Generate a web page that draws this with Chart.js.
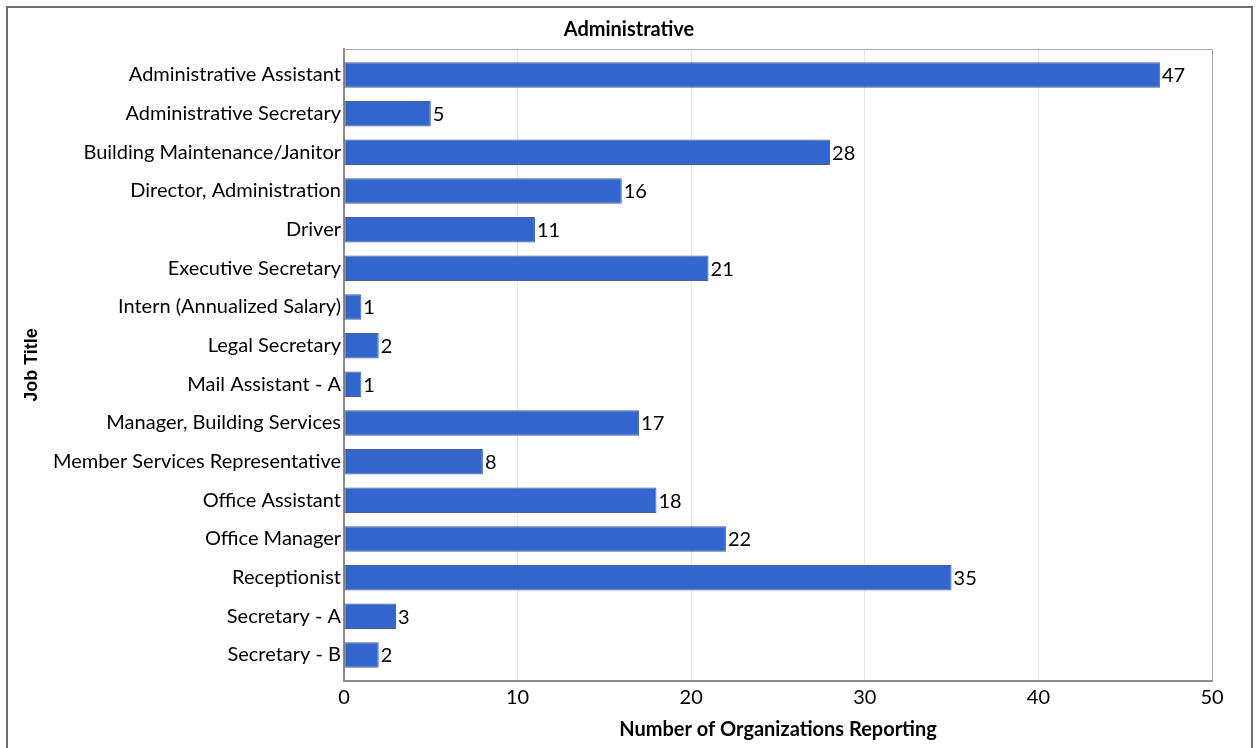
<!DOCTYPE html>
<html>
<head>
<meta charset="utf-8">
<script src="https://cdn.jsdelivr.net/npm/chart.js@4"></script>
<style>
  html, body { margin: 0; padding: 0; background: #fff; }
  #wrap { position: relative; width: 1258px; height: 748px; }
  #frame { position: absolute; left: 6px; top: 6px; width: 1243px; height: 760px; border: 2px solid #6e6e6e; pointer-events: none; }
</style>
</head>
<body>
<div id="wrap">
  <canvas id="myChart" width="1258" height="748"></canvas>
  <div id="frame"></div>
</div>
<script>
'use strict';
const chartTitle = 'Administrative';
const jobTitles = ['Administrative Assistant', 'Administrative Secretary', 'Building Maintenance/Janitor', 'Director, Administration', 'Driver', 'Executive Secretary', 'Intern (Annualized Salary)', 'Legal Secretary', 'Mail Assistant - A', 'Manager, Building Services', 'Member Services Representative', 'Office Assistant', 'Office Manager', 'Receptionist', 'Secretary - A', 'Secretary - B'];
const orgCounts = [47, 5, 28, 16, 11, 21, 1, 2, 1, 17, 8, 18, 22, 35, 3, 2];
const xTicks = [0, 10, 20, 30, 40, 50];

const fontName = 'Lato';

// puts the value just right of each bar
const barValues = {
  id: 'barValues',
  afterDatasetsDraw(chart) {
    const ctx = chart.ctx;
    const meta = chart.getDatasetMeta(0);
    ctx.save();
    ctx.font = '20px ' + fontName;
    ctx.fillStyle = '#000';
    ctx.textAlign = 'left';
    ctx.textBaseline = 'middle';
    meta.data.forEach(function (bar, i) {
      ctx.fillText(orgCounts[i], bar.x + 2, bar.y + 1);
    });
    ctx.restore();
  }
};

// title centred on the whole picture, not on the padded box
const pageTitle = {
  id: 'pageTitle',
  afterDraw(chart) {
    const c = chart.ctx;
    c.save();
    c.font = 'bold 20px ' + fontName;
    c.fillStyle = '#000';
    c.textAlign = 'center';
    c.textBaseline = 'middle';
    c.fillText(chartTitle, chart.width / 2, 30);
    c.restore();
  }
};

const plotBox = {
  id: 'plotBox',
  afterDraw(chart) {
    const a = chart.chartArea;
    const c = chart.ctx;
    c.save();
    c.strokeStyle = '#a6a6a6';
    c.lineWidth = 1;
    c.beginPath();
    c.moveTo(a.left, a.top + 0.5);
    c.lineTo(a.right + 0.5, a.top + 0.5);
    c.lineTo(a.right + 0.5, a.bottom);
    c.stroke();
    c.restore();
  }
};

const ctx = document.getElementById('myChart').getContext('2d');
new Chart(ctx, {
  type: 'bar',
  data: {
    labels: jobTitles,
    datasets: [{
      data: orgCounts,
      backgroundColor: '#3366cc',
      borderColor: '#4b5e8c',
      borderWidth: 1,
      borderSkipped: false,
      categoryPercentage: 1,
      barPercentage: 0.66
    }]
  },
  options: {
    indexAxis: 'y',
    responsive: false,
    animation: false,
    layout: { padding: { top: 49, right: 46, bottom: 0, left: 0 } },
    plugins: {
      legend: { display: false },
      tooltip: { enabled: false },
      title: { display: false }
    },
    scales: {
      x: {
        min: 0,
        max: 50,
        afterBuildTicks(scale) { scale.ticks = xTicks.map(v => ({ value: v })); },
        afterFit(scale) { scale.height = 67; },
        grid: { color: '#e4e4e4', drawTicks: false },
        border: { color: '#8c8c8c', width: 2 },
        ticks: { color: '#000', padding: 5, font: { family: fontName, size: 20 } },
        title: {
          display: true,
          text: 'Number of Organizations Reporting',
          color: '#000',
          font: { family: fontName, size: 20, weight: 'bold' },
          padding: { top: 4, bottom: 6 }
        }
      },
      y: {
        afterFit(scale) { scale.width = 344; },
        // leave a little room above the first bar and below the last one
        afterUpdate(scale) {
          scale._startValue = -0.672;
          scale._valueRange = 16.345;
        },
        grid: { display: false, drawTicks: false },
        border: { color: '#8c8c8c', width: 2 },
        ticks: { color: '#000', padding: 3, font: { family: fontName, size: 20 } },
        title: {
          display: true,
          text: 'Job Title',
          color: '#000',
          font: { family: 'Liberation Sans', size: 18, weight: 'bold' },
          padding: { top: 21, bottom: 0 }
        }
      }
    }
  },
  plugins: [barValues, plotBox, pageTitle]
});
</script>
</body>
</html>
